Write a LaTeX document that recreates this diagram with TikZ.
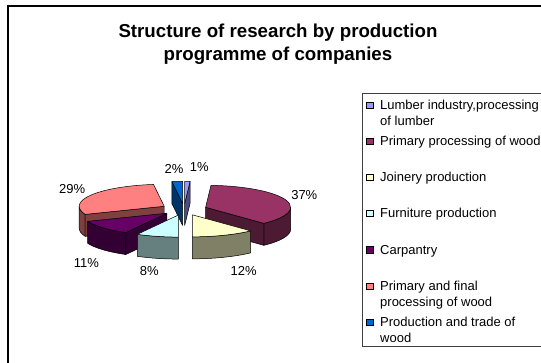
\documentclass[tikz,border=0pt]{standalone}
\usepackage{fontspec}
\setmainfont{Liberation Sans}

\definecolor{lumber}{HTML}{9999FF}
\definecolor{lumberside}{HTML}{4C4C80}
\definecolor{primary}{HTML}{993366}
\definecolor{primaryside}{HTML}{4D1A33}
\definecolor{joinery}{HTML}{FFFFCC}
\definecolor{joineryside}{HTML}{808066}
\definecolor{furniture}{HTML}{CCFFFF}
\definecolor{furnitureside}{HTML}{668080}
\definecolor{carpantry}{HTML}{660066}
\definecolor{carpantryside}{HTML}{330033}
\definecolor{primfinal}{HTML}{FF8080}
\definecolor{primfinalside}{HTML}{804040}
\definecolor{trade}{HTML}{0066CC}
\definecolor{tradeside}{HTML}{003366}

\tikzset{
	wall/.style={draw=black, line width=0.5pt, line join=round},
	pct/.style={font=\fontsize{13}{15}\selectfont, inner sep=0pt},
	legtext/.style={font=\fontsize{13}{15.5}\selectfont, anchor=base west, inner sep=0pt, align=left},
	legmark/.style={draw=black, line width=0.5pt, minimum size=6.5pt, inner sep=0pt},
}

% faces of one slice, drawn round its own tip
\newcommand{\topface}[3]{\filldraw[wall, fill=#3] (0,0) -- (#1:85 and 22) arc[start angle=#1, end angle=#2, x radius=85, y radius=22] -- cycle;}
\newcommand{\cutface}[2]{\filldraw[wall, fill=#2] (0,0) -- (#1:85 and 22) -- ++(0,-22) -- (0,-22) -- cycle;}
\newcommand{\rimface}[3]{\filldraw[wall, fill=#3] (#1:85 and 22) arc[start angle=#1, end angle=#2, x radius=85, y radius=22] -- ++(0,-22) arc[start angle=#2, end angle=#1, x radius=85, y radius=22] -- cycle;}

\begin{document}
\begin{tikzpicture}[x=1pt, y=-1pt]
	\useasboundingbox (0,0) rectangle (541,363);
	\clip (0,0) rectangle (541,363);
	\fill[white] (0,0) rectangle (541,363);
	\draw[line width=1.3pt] (8,380) -- (8,6) -- (560,6);

	\node[font=\bfseries\fontsize{18.7}{23.3}\selectfont, align=center, inner sep=0pt] (title) at (278,44.2) {Structure of research by production\\programme of companies};

	% pie, exploded slices
	\begin{scope}[shift={(184,209.3)}, yscale=-1]
		\begin{scope}[shift={(88.2:23 and 5.95)}]
			\cutface{86.4}{lumberside}
			\topface{86.4}{90}{lumber}
		\end{scope}
		\begin{scope}[shift={(93.6:23 and 5.95)}]
			\cutface{97.2}{tradeside}
			\topface{90}{97.2}{trade}
		\end{scope}
		\begin{scope}[shift={(19.8:23 and 5.95)}]
			\rimface{-46.8}{0}{primaryside}
			\cutface{-46.8}{primaryside}
			\topface{-46.8}{86.4}{primary}
		\end{scope}
		\begin{scope}[shift={(149.4:23 and 5.95)}]
			\rimface{180}{201.6}{primfinalside}
			\cutface{201.6}{primfinalside}
			\topface{97.2}{201.6}{primfinal}
		\end{scope}
		\begin{scope}[shift={(-138.6:23 and 5.95)}]
			\rimface{-158.4}{-118.8}{carpantryside}
			\cutface{-118.8}{carpantryside}
			\topface{-158.4}{-118.8}{carpantry}
		\end{scope}
		\begin{scope}[shift={(-68.4:23 and 5.95)}]
			\rimface{-90}{-46.8}{joineryside}
			\topface{-90}{-46.8}{joinery}
		\end{scope}
		\begin{scope}[shift={(-104.4:23 and 5.95)}]
			\rimface{-118.8}{-90}{furnitureside}
			\topface{-118.8}{-90}{furniture}
		\end{scope}
	\end{scope}

	\node[pct] (p1) at (199.3,167.3) {1\%};
	\node[pct] (p2) at (174,169.3) {2\%};
	\node[pct] (p29) at (72.2,188.8) {29\%};
	\node[pct] (p37) at (304.3,195) {37\%};
	\node[pct] (p11) at (86.5,263) {11\%};
	\node[pct] (p8) at (149.2,271.4) {8\%};
	\node[pct] (p12) at (243.6,271.4) {12\%};

	% legend (base of a two-line entry is its second line)
	\draw[draw=black!75, line width=0.8pt] (362,93.5) rectangle (580,346.5);
	\node[legmark, fill=lumber] (m1) at (369.7,105.5) {};
	\node[legtext] (l1) at (380,125.5) {Lumber industry,processing\\of lumber};
	\node[legmark, fill=primary] (m2) at (369.7,141.5) {};
	\node[legtext] (l2) at (380,146) {Primary processing of wood};
	\node[legmark, fill=joinery] (m3) at (369.7,177.5) {};
	\node[legtext] (l3) at (380,182) {Joinery production};
	\node[legmark, fill=furniture] (m4) at (369.7,213.5) {};
	\node[legtext] (l4) at (380,218) {Furniture production};
	\node[legmark, fill=carpantry] (m5) at (369.7,250) {};
	\node[legtext] (l5) at (380,254.5) {Carpantry};
	\node[legmark, fill=primfinal] (m6) at (369.7,286.5) {};
	\node[legtext] (l6) at (380,306.5) {Primary and final\\processing of wood};
	\node[legmark, fill=trade] (m7) at (369.7,322.5) {};
	\node[legtext] (l7) at (380,342.5) {Production and trade of\\wood};
\end{tikzpicture}
\end{document}
